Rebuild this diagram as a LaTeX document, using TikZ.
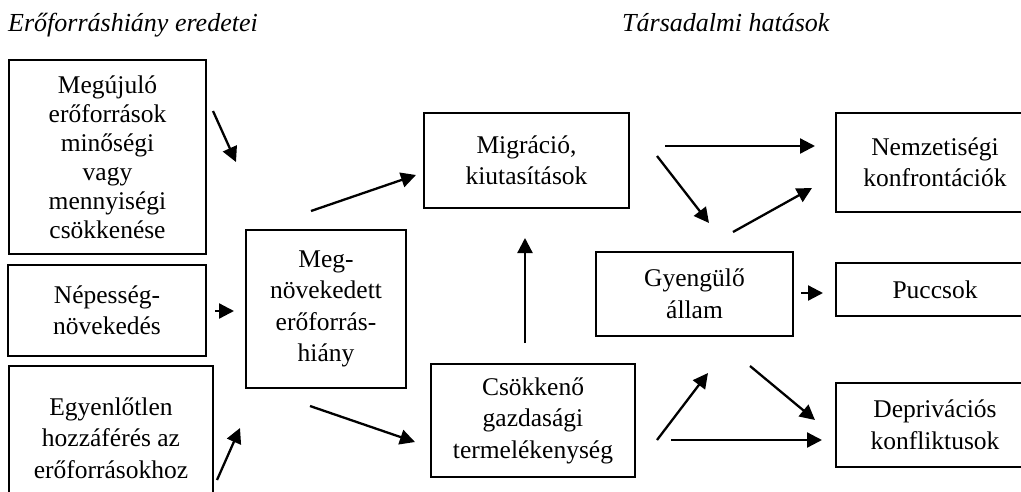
\documentclass[tikz,border=0pt]{standalone}
\usepackage{fontspec}
\setmainfont{Liberation Serif}
\usetikzlibrary{arrows.meta}

\begin{document}
\begin{tikzpicture}[x=1pt, y=-1pt,
  box/.style = {draw, line width=1.6pt, inner sep=0pt, align=center,
    font=\fontsize{25.5}{31.5}\selectfont},
  arr/.style = {-{Triangle[length=15pt, width=15pt]}, line width=2.3pt},
  heading/.style = {anchor=base west, inner sep=0pt,
    font=\fontsize{26}{30}\selectfont\itshape}]
\useasboundingbox (0,0) rectangle (1021,491);

\node[heading] (origins) at (8,31) {Erőforráshiány eredetei};
\node[heading] (effects) at (622,31) {Társadalmi hatások};

\node[box, minimum width=197pt, minimum height=194pt, font=\fontsize{25.5}{29}\selectfont] (renew) at (107.5,157)
  {Megújuló\\erőforrások\\minőségi\\vagy\\mennyiségi\\csökkenése};
\node[box, minimum width=198pt, minimum height=91pt] (pop) at (107,310.5) {Népesség-\\növekedés};
\node[box, minimum width=204pt, minimum height=144pt] (access) at (111,438)
  {Egyenlőtlen\\hozzáférés az\\erőforrásokhoz};
\node[box, minimum width=160pt, minimum height=158pt] (scarc) at (326,309)
  {Meg-\\növekedett\\erőforrás-\\hiány};
\node[box, minimum width=205pt, minimum height=95pt] (migr) at (526.5,160.5) {Migráció,\\kiutasítások};
\node[box, minimum width=204pt, minimum height=113pt] (econ) at (533,420.5)
  {Csökkenő\\gazdasági\\termelékenység};
\node[box, minimum width=197pt, minimum height=84pt] (state) at (694.5,294) {Gyengülő\\állam};
\node[box, minimum width=198pt, minimum height=99pt] (ethnic) at (935,162.5)
  {Nemzetiségi\\konfrontációk};
\node[box, minimum width=198pt, minimum height=53pt] (coup) at (935,289.5) {Puccsok};
\node[box, minimum width=198pt, minimum height=84pt] (depr) at (935,425) {Deprivációs\\konfliktusok};

\coordinate (r0) at (213,111);  \coordinate (r1) at (236,162);
\coordinate (p0) at (215,311);  \coordinate (p1) at (234,311);
\coordinate (e0) at (217,480);  \coordinate (e1) at (240,428);
\coordinate (s0) at (311,211);  \coordinate (s1) at (416,175);
\coordinate (t0) at (310,406);  \coordinate (t1) at (415,442);
\coordinate (c0) at (525,343);  \coordinate (c1) at (525,238);
\coordinate (m0) at (665,146);  \coordinate (m1) at (815,146);
\coordinate (n0) at (657,156);  \coordinate (n1) at (709,223);
\coordinate (g0) at (733,232);  \coordinate (g1) at (812,188);
\coordinate (h0) at (801,293);  \coordinate (h1) at (823,293);
\coordinate (k0) at (657,440);  \coordinate (k1) at (708,373);
\coordinate (d0) at (750,366);  \coordinate (d1) at (815,420);
\coordinate (f0) at (671,440);  \coordinate (f1) at (822,440);

\draw[arr] (r0) -- (r1);
\draw[arr] (p0) -- (p1);
\draw[arr] (e0) -- (e1);
\draw[arr] (s0) -- (s1);
\draw[arr] (t0) -- (t1);
\draw[arr] (c0) -- (c1);
\draw[arr] (m0) -- (m1);
\draw[arr] (n0) -- (n1);
\draw[arr] (g0) -- (g1);
\draw[arr] (h0) -- (h1);
\draw[arr] (k0) -- (k1);
\draw[arr] (d0) -- (d1);
\draw[arr] (f0) -- (f1);
\end{tikzpicture}
\end{document}
